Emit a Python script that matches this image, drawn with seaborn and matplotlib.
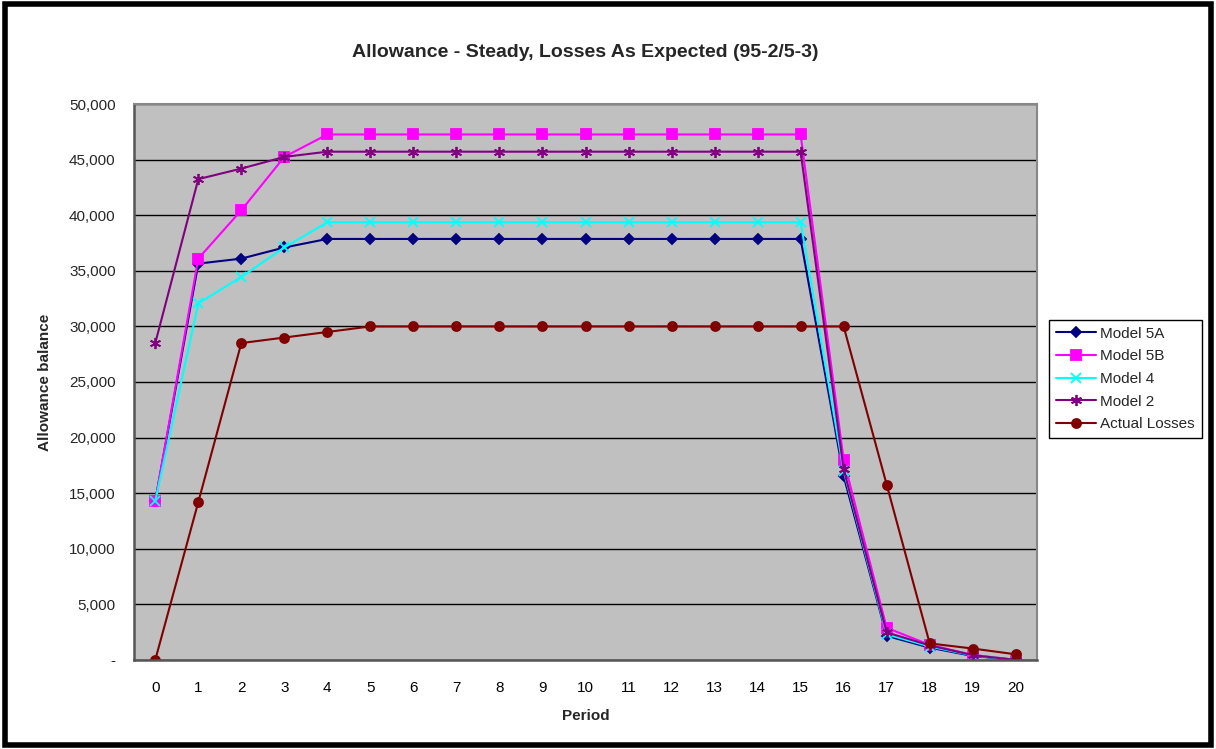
import numpy as np
import pandas as pd
import matplotlib
matplotlib.use("Agg")
import matplotlib.pyplot as plt
import matplotlib.patches as patches
from matplotlib.ticker import FuncFormatter, FixedLocator
import seaborn as sns

periods = list(range(21))
model_5a = [14300, 35650, 36100, 37100, 37870, 37870, 37870, 37870, 37870, 37870, 37870,
            37870, 37870, 37870, 37870, 37870, 16540, 2160, 1100, 350, 0]
model_5b = [14300, 36100, 40450, 45250, 47270, 47270, 47270, 47270, 47270, 47270, 47270,
            47270, 47270, 47270, 47270, 47270, 18000, 2880, 1350, 450, 0]
model_4 = [14300, 32070, 34450, 37100, 39370, 39370, 39370, 39370, 39370, 39370, 39370,
           39370, 39370, 39370, 39370, 39370, 17000, 2300, 1200, 400, 0]
model_2 = [28500, 43250, 44200, 45250, 45720, 45720, 45720, 45720, 45720, 45720, 45720,
           45720, 45720, 45720, 45720, 45720, 17150, 2470, 1300, 420, 0]
actual = [0, 14200, 28500, 29000, 29500, 30000, 30000, 30000, 30000, 30000, 30000,
          30000, 30000, 30000, 30000, 30000, 30000, 15770, 1480, 1020, 500]

series_names = ["Model 5A", "Model 5B", "Model 4", "Model 2", "Actual Losses"]
series_vals = [model_5a, model_5b, model_4, model_2, actual]
colors = {"Model 5A": "#000080", "Model 5B": "#FF00FF", "Model 4": "#00FFFF",
          "Model 2": "#800080", "Actual Losses": "#800000"}
markers = {"Model 5A": "D", "Model 5B": "s", "Model 4": "x",
           "Model 2": (6, 2, 0), "Actual Losses": "o"}
msizes = {"Model 5A": 5.5, "Model 5B": 6.5, "Model 4": 7, "Model 2": 8, "Actual Losses": 6.5}

df = pd.concat([pd.DataFrame({"Period": periods, "Value": v, "Series": n})
                for n, v in zip(series_names, series_vals)], ignore_index=True)

sns.set_style("white")
plt.rcParams["font.family"] = ["Liberation Sans", "DejaVu Sans"]

fig = plt.figure(figsize=(12.16, 7.49), dpi=100)
ax = fig.add_axes([0.110, 0.119, 0.743, 0.742])
ax.set_facecolor("#C0C0C0")

for n in series_names:
    sub = df[df["Series"] == n]
    sns.lineplot(data=sub, x="Period", y="Value", ax=ax, color=colors[n],
                 marker=markers[n], markersize=msizes[n], linewidth=1.5,
                 markeredgecolor=colors[n], markeredgewidth=1.3, label=n)

ax.set_xlim(-0.5, 20.5)
ax.set_ylim(0, 50000)
ax.set_yticks(np.arange(0, 50001, 5000))
ax.yaxis.set_major_formatter(FuncFormatter(lambda v, p: "-" if v == 0 else f"{int(v):,}"))
ax.set_xticks(periods)
ax.set_xticklabels([str(p) for p in periods])
ax.xaxis.set_minor_locator(FixedLocator(np.arange(-0.5, 20.6, 1)))
ax.tick_params(axis="x", which="major", length=0, labelsize=11, pad=15, colors="black")
ax.tick_params(axis="x", which="minor", length=5, width=1.2, color="#555555", direction="out")
ax.tick_params(axis="y", length=5, width=1.2, color="#555555", direction="out", labelsize=11, pad=8)
ax.grid(axis="y", color="black", linewidth=1)
ax.grid(axis="x", visible=False)
ax.set_axisbelow(True)
for s in ["left", "bottom"]:
    ax.spines[s].set_color("#555555")
    ax.spines[s].set_linewidth(1.8)
for s in ["top", "right"]:
    ax.spines[s].set_color("#888888")
    ax.spines[s].set_linewidth(1.5)

ax.set_xlabel("Period", fontsize=11, fontweight="bold", labelpad=10)
ax.set_ylabel("Allowance balance", fontsize=11, fontweight="bold", labelpad=12)
ax.set_title("Allowance - Steady, Losses As Expected (95-2/5-3)", fontsize=14,
             fontweight="bold", pad=34)

leg = ax.legend(loc="upper left", bbox_to_anchor=(1.013, 0.612), fontsize=11,
                frameon=True, fancybox=False, edgecolor="black", framealpha=1,
                handlelength=2.6, borderpad=0.45, labelspacing=0.57, handletextpad=0.3,
                borderaxespad=0)
leg.get_frame().set_linewidth(1.0)

fig.patches.append(patches.Rectangle((0.004, 0.006), 0.992, 0.988, transform=fig.transFigure,
                                     fill=False, edgecolor="black", linewidth=4))
fig.savefig("out.png", dpi=100, facecolor="white")
